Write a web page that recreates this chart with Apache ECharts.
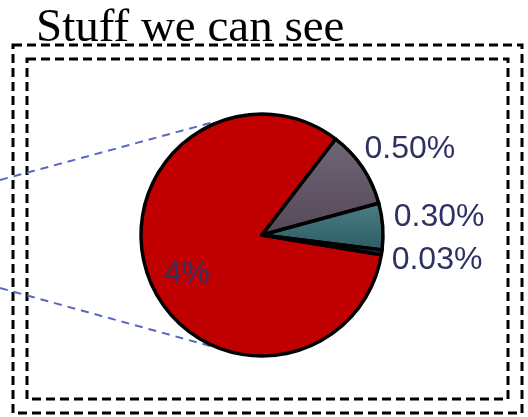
<!DOCTYPE html>
<html>
<head>
<meta charset="utf-8">
<script src="https://cdn.jsdelivr.net/npm/echarts@6/dist/echarts.min.js"></script>
<style>
  html, body { margin: 0; padding: 0; background: #fff; }
  #chart { width: 528px; height: 417px; }
</style>
</head>
<body>
<div id="chart"></div>
<script>
// Share of what we can see
const categories = ['Red', 'Purple', 'Teal', 'Trace'];
const values = [4, 0.5, 0.3, 0.03];
const labelTexts = ['4%', '0.50%', '0.30%', '0.03%'];
const titleText = 'Stuff we can see';

const sliceColors = [
  '#c00000',
  { type: 'linear', x: 0, y: 0, x2: 0, y2: 1,
    colorStops: [{ offset: 0, color: '#6f6674' }, { offset: 1, color: '#564859' }] },
  { type: 'linear', x: 0, y: 0, x2: 0, y2: 1,
    colorStops: [{ offset: 0, color: '#4d7e83' }, { offset: 1, color: '#2c5c64' }] },
  '#1e3f48'
];

// label nudges: the big slice keeps its label inside, the rest sit to the right
const labelShift = [
  { dx: -16, dy: 16 },
  { dx: -8, dy: -15 },
  { dx: 0, dy: -9 },
  { dx: -1, dy: 7 }
];

const chart = echarts.init(document.getElementById('chart'), null, { renderer: 'canvas' });

const dash = { stroke: '#000', lineWidth: 3, lineDash: [9, 5], fill: null };
const connector = { stroke: '#5a67c0', lineWidth: 2, lineDash: [8, 6] };

chart.setOption({
  animation: false,
  backgroundColor: '#fff',
  title: {
    text: titleText,
    left: 31, top: 0,
    textStyle: { fontFamily: '"Liberation Serif", "Times New Roman", serif', fontSize: 47, fontWeight: 'normal', color: '#000' }
  },
  graphic: [
    { type: 'rect', shape: { x: 13, y: 45, width: 509, height: 368 }, style: dash, silent: true, z: 0 },
    { type: 'rect', shape: { x: 27, y: 59, width: 481, height: 340 }, style: dash, silent: true, z: 0 },
    { type: 'line', shape: { x1: 0, y1: 180, x2: 214, y2: 122 }, style: connector, silent: true, z: 0 },
    { type: 'line', shape: { x1: 0, y1: 288, x2: 214, y2: 347 }, style: connector, silent: true, z: 0 }
  ],
  series: [{
    type: 'pie',
    center: [262, 235],
    radius: 121,
    startAngle: -9.4,
    clockwise: true,
    avoidLabelOverlap: false,
    itemStyle: { borderColor: '#000', borderWidth: 3.5 },
    label: {
      show: true,
      position: 'outside',
      fontFamily: '"Liberation Sans", Arial, sans-serif',
      fontSize: 32,
      color: '#2e3262',
      formatter: p => labelTexts[p.dataIndex]
    },
    labelLine: { show: false, length: 6, length2: 0 },
    labelLayout: p => labelShift[p.dataIndex],
    data: categories.map((c, i) => ({
      name: c,
      value: values[i],
      itemStyle: { color: sliceColors[i] },
      label: i === 0 ? { position: 'inside' } : {}
    }))
  }]
});
</script>
</body>
</html>
